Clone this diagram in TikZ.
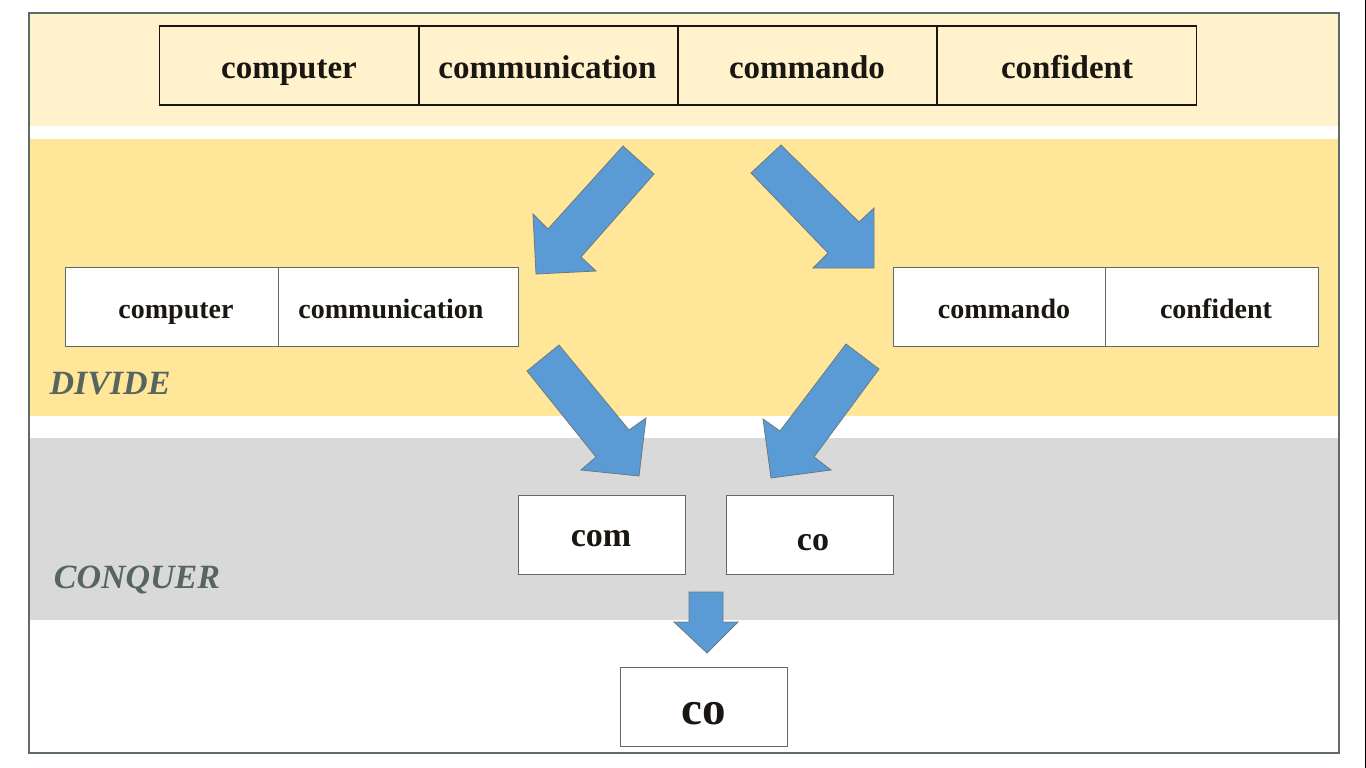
\documentclass[tikz,border=0pt]{standalone}
\usepackage{fontspec}
\setmainfont{Liberation Serif}
\definecolor{bandtop}{HTML}{FFF2CC}
\definecolor{banddiv}{HTML}{FFE699}
\definecolor{bandcon}{HTML}{D9D9D9}
\definecolor{framegray}{HTML}{5F6B66}
\definecolor{arrowblue}{HTML}{5B9BD5}
\definecolor{arrowedge}{HTML}{6A7A80}
\definecolor{labelgray}{HTML}{56655F}
\definecolor{ink}{HTML}{1A1712}
\tikzset{
  topbox/.style={draw=ink, line width=1.3pt, fill=bandtop, inner sep=0pt, minimum width=259pt, minimum height=79pt},
  midbox/.style={draw=framegray, line width=0.9pt, fill=white, inner sep=0pt, minimum height=79pt},
  resbox/.style={draw=framegray, line width=0.9pt, fill=white, inner sep=0pt, minimum width=167pt, minimum height=79pt},
  toptext/.style={anchor=base, inner sep=0pt, text=ink, font=\fontsize{33}{36}\selectfont\bfseries},
  midtext/.style={anchor=base, inner sep=0pt, text=ink, font=\fontsize{28}{30}\selectfont\bfseries},
  restext/.style={anchor=base, inner sep=0pt, text=ink, font=\fontsize{34}{36}\selectfont\bfseries},
  fintext/.style={anchor=base, inner sep=0pt, text=ink, font=\fontsize{47}{50}\selectfont\bfseries},
  blockarrow/.style={fill=arrowblue, draw=arrowedge, line width=0.8pt, line join=miter},
  phase/.style={anchor=base, inner sep=0pt, text=labelgray, font=\fontsize{34}{36}\selectfont\bfseries\itshape}
}
\begin{document}
\begin{tikzpicture}[x=1pt,y=-1pt]
\useasboundingbox (0,0) rectangle (1366,768);
\fill[white] (0,0) rectangle (1366,768);
% bands
\fill[bandtop] (29,13) rectangle (1339,126);
\fill[banddiv] (29,139) rectangle (1339,416);
\fill[bandcon] (29,438) rectangle (1339,620);
\draw[framegray, line width=1.2pt] (29,13) rectangle (1339,753);
\draw[black, line width=1.2pt] (1365.3,0) -- (1365.3,768);
% top row
\node[topbox] (t1) at (289,65.5) {};
\node[topbox] (t2) at (548.5,65.5) {};
\node[topbox] (t3) at (807.5,65.5) {};
\node[topbox] (t4) at (1067,65.5) {};
\node[toptext] (t1t) at (289,78) {computer};
\node[toptext] (t2t) at (547.5,78) {communication};
\node[toptext] (t3t) at (807,78) {commando};
\node[toptext] (t4t) at (1067,78) {confident};
% divide row
\node[midbox, minimum width=213pt] (l1) at (171.5,306.5) {};
\node[midbox, minimum width=240pt] (l2) at (398,306.5) {};
\node[midtext] (l1t) at (176,318) {computer};
\node[midtext] (l2t) at (391,318) {communication};
\node[midbox, minimum width=212pt] (r1) at (999,306.5) {};
\node[midbox, minimum width=213pt] (r2) at (1211.5,306.5) {};
\node[midtext] (r1t) at (1004,318) {commando};
\node[midtext] (r2t) at (1216,318) {confident};
% conquer row
\node[resbox] (c1) at (601.5,534.5) {};
\node[restext] (c1t) at (601,546) {com};
\node[resbox] (c2) at (809.5,534.5) {};
\node[restext] (c2t) at (813,550) {co};
% final
\node[resbox] (f) at (704,706.5) {};
\node[fintext] (ft) at (704,724) {co};
% labels
\node[phase] (div) at (110,394) {DIVIDE};
\node[phase] (con) at (137,588) {CONQUER};
% arrows
\draw[blockarrow] (623,146) -- (654,174) -- (581,257) -- (596,271) -- (536,274) -- (533,214) -- (548,229) -- cycle;
\draw[blockarrow] (781,145) -- (751,173) -- (828,253) -- (813,268) -- (874,268) -- (874,208) -- (859,222) -- cycle;
\draw[blockarrow] (559,345) -- (527,371) -- (596,457) -- (581,470) -- (639,476) -- (646,418) -- (629,430) -- cycle;
\draw[blockarrow] (846,344) -- (879,369) -- (814,457) -- (831,470) -- (771,478) -- (763,419) -- (780,431) -- cycle;
\draw[blockarrow] (689,592) -- (723,592) -- (723,622) -- (738,622) -- (707,653) -- (674,622) -- (689,622) -- cycle;
\end{tikzpicture}
\end{document}
